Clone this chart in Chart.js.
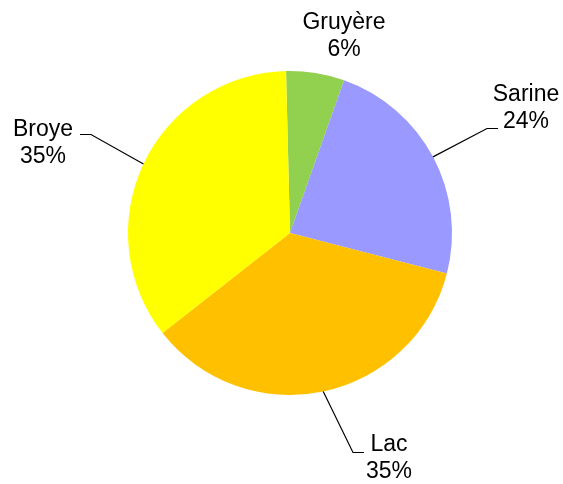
<!DOCTYPE html>
<html>
<head>
<meta charset="utf-8">
<script src="https://cdn.jsdelivr.net/npm/chart.js@4/dist/chart.umd.min.js"></script>
<style>
html,body{margin:0;padding:0;background:#fff;}
canvas{display:block;}
</style>
</head>
<body>
<canvas id="c" width="563" height="484"></canvas>
<script>
const categories = ["Gruyère", "Sarine", "Lac", "Broye"];
const values = [5.8, 23.6, 35.4, 35.2];
const colors = ["#92D050", "#9999FF", "#FFC000", "#FFFF00"];

// label placement relative to pie centre (layout only)
const labelLayout = [
  { tx: 54,  ty: -197, leader: null },
  { tx: 236, ty: -125, leader: { x: 208, y: -105, dir: -1 } },
  { tx: 99,  ty: 225,  leader: { x: 74,  y: 219,  dir: -1 } },
  { tx: -247, ty: -90, leader: { x: -210, y: -99, dir: 1 } }
];

const labelPlugin = {
  id: 'outLabels',
  afterDatasetsDraw(chart) {
    const ctx = chart.ctx;
    const meta = chart.getDatasetMeta(0);
    const total = values.reduce((a, b) => a + b, 0);
    ctx.save();
    ctx.font = '23px "Liberation Sans", Arial, sans-serif';
    ctx.fillStyle = '#000';
    ctx.textAlign = 'center';
    ctx.textBaseline = 'middle';
    meta.data.forEach((arc, i) => {
      const cx = arc.x, cy = arc.y, r = arc.outerRadius;
      const mid = (arc.startAngle + arc.endAngle) / 2;
      const L = labelLayout[i];
      const pct = Math.round(values[i] / total * 100) + '%';
      ctx.fillText(categories[i], cx + L.tx, cy + L.ty - 13.5);
      ctx.fillText(pct, cx + L.tx, cy + L.ty + 13.5);
      if (L.leader) {
        const sx = cx + Math.cos(mid) * r;
        const sy = cy + Math.sin(mid) * r;
        const ex = cx + L.leader.x, ey = Math.round(cy + L.leader.y) + 0.5;
        const elx = ex + L.leader.dir * 11;
        ctx.strokeStyle = '#000';
        ctx.lineWidth = 1.2;
        ctx.beginPath();
        ctx.moveTo(sx, sy);
        ctx.lineTo(elx, ey);
        ctx.lineTo(ex, ey);
        ctx.stroke();
      }
    });
    ctx.restore();
  }
};

new Chart(document.getElementById('c'), {
  type: 'pie',
  data: {
    labels: categories,
    datasets: [{
      data: values,
      backgroundColor: colors,
      borderWidth: 0,
      hoverOffset: 0
    }]
  },
  options: {
    responsive: false,
    animation: false,
    rotation: -1.4,
    layout: { padding: { left: 128, right: 111, top: 71, bottom: 89 } },
    plugins: {
      legend: { display: false },
      tooltip: { enabled: false }
    }
  },
  plugins: [labelPlugin]
});
</script>
</body>
</html>
